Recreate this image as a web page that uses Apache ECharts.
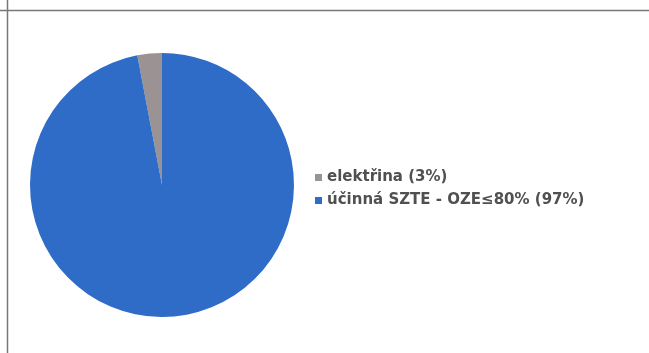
<!DOCTYPE html>
<html><head><meta charset="utf-8">
<script src="https://cdn.jsdelivr.net/npm/echarts@6/dist/echarts.min.js"></script>
<style>html,body{margin:0;padding:0;background:#fff}#c{width:649px;height:353px}</style>
</head><body><div id="c"></div>
<script>
const categories = ['elektřina', 'účinná SZTE - OZE≤80%'];
const values = [3, 97];
const colors = ['#9b9294', '#2f6cc8'];

const total = values.reduce((a, b) => a + b, 0);
const chart = echarts.init(document.getElementById('c'));
chart.setOption({
  animation: false,
  backgroundColor: '#fff',
  graphic: [
    {type: 'line', shape: {x1: 0, y1: 10.5, x2: 649, y2: 10.5}, style: {stroke: '#777', lineWidth: 1.5}},
    {type: 'line', shape: {x1: 7.5, y1: 0, x2: 7.5, y2: 353}, style: {stroke: '#777', lineWidth: 1.5}}
  ],
  legend: {
    orient: 'vertical',
    left: 315,
    top: 170,
    padding: 0,
    itemWidth: 7,
    itemHeight: 7,
    itemGap: 8,
    icon: 'rect',
    textStyle: {fontFamily: 'DejaVu Sans', fontSize: 15, fontWeight: 'bold', color: '#505050'},
    formatter: function (name) {
      const i = categories.indexOf(name);
      return name + ' (' + Math.round(values[i] / total * 100) + '%)';
    },
    data: categories
  },
  series: [{
    type: 'pie',
    center: [162, 185],
    radius: 132,
    startAngle: 90,
    clockwise: false,
    label: {show: false},
    labelLine: {show: false},
    itemStyle: {borderWidth: 0},
    data: categories.map((c, i) => ({name: c, value: values[i], itemStyle: {color: colors[i]}}))
  }]
});
</script></body></html>
